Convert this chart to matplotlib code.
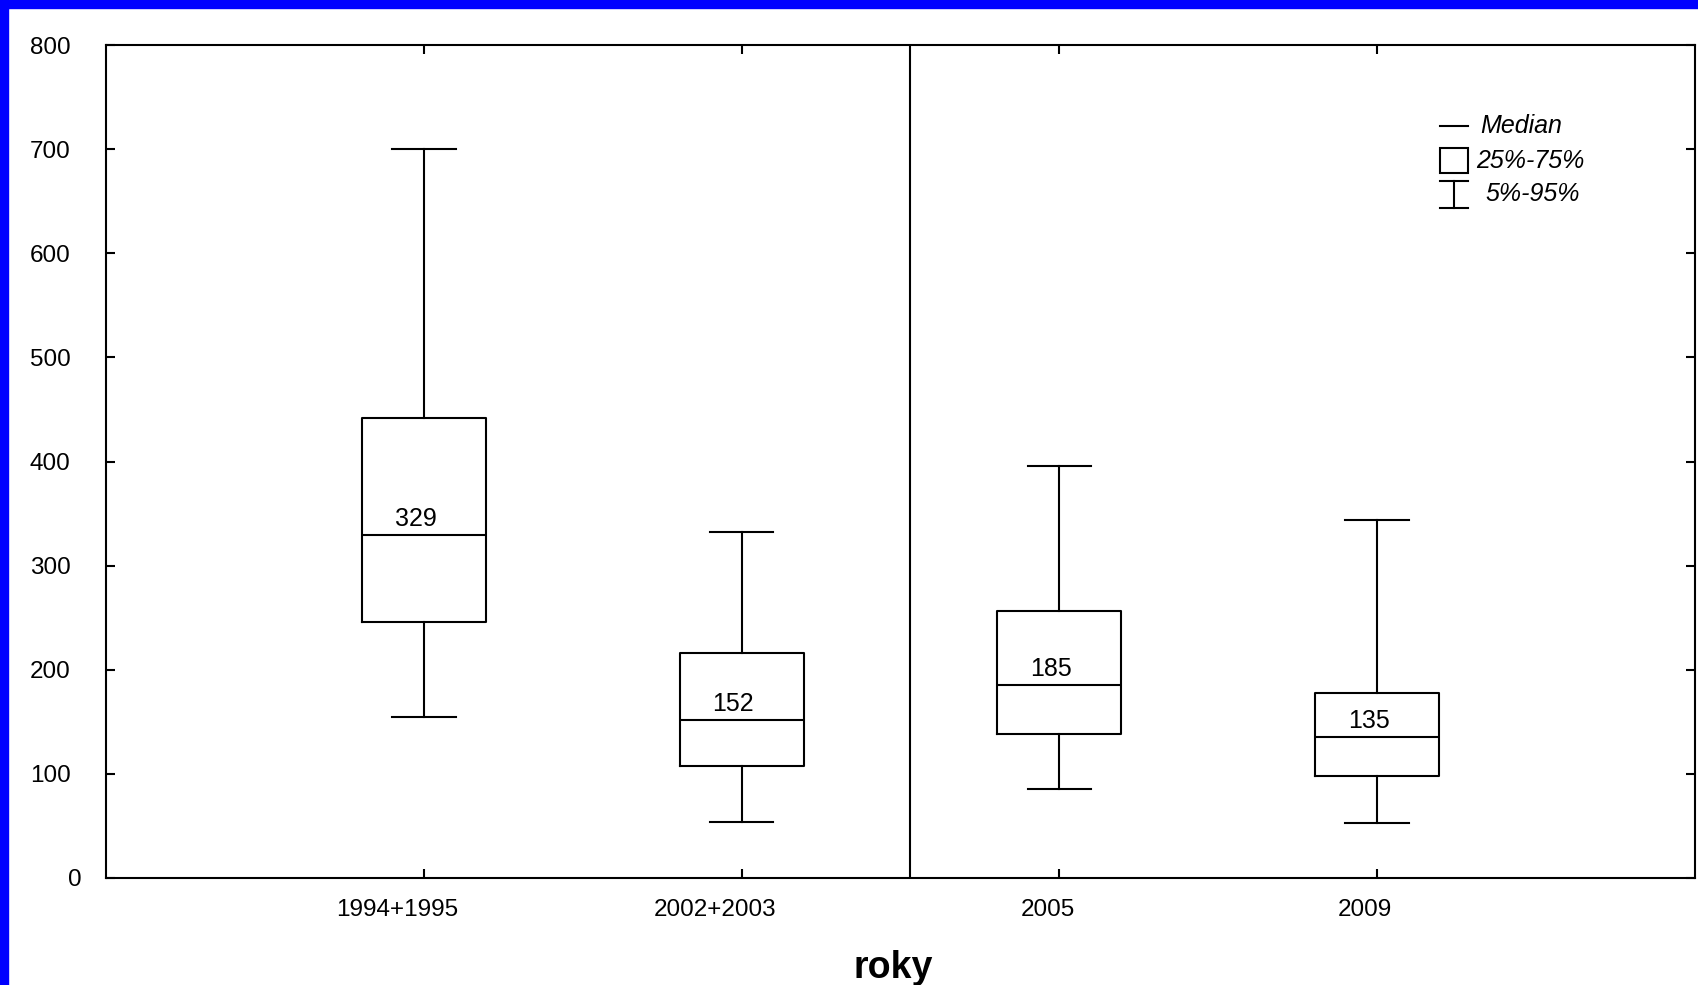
import matplotlib
matplotlib.use("Agg")
import matplotlib.pyplot as plt
import matplotlib.transforms as mtransforms
from matplotlib.patches import Rectangle

plt.rcParams['font.family'] = ['Liberation Sans', 'DejaVu Sans']

# data
roky = ['1994+1995', '2002+2003', '2005', '2009']
p05 = [155, 54, 85, 53]
q25 = [246, 108, 138, 98]
median = [329, 152, 185, 135]
q75 = [442, 216, 256, 178]
p95 = [700, 332, 396, 344]
median_labels = ['329', '152', '185', '135']
yticks = [0, 100, 200, 300, 400, 500, 600, 700, 800]

fig = plt.figure(figsize=(16.98, 9.85), dpi=100)
W, H = 1698, 985

# blue frame on the left and top
fig.patches.append(Rectangle((0, 0), 8 / W, 1, transform=fig.transFigure, color='#0000ff', zorder=0))
fig.patches.append(Rectangle((0, 1 - 8 / H), 1, 8 / H, transform=fig.transFigure, color='#0000ff', zorder=0))

ax = fig.add_axes([106 / W, (H - 878) / H, (1695 - 106) / W, (878 - 45) / H])

pos = [1, 2, 3, 4]
stats = []
for i in range(len(roky)):
    stats.append({'whislo': p05[i], 'q1': q25[i], 'med': median[i],
                  'q3': q75[i], 'whishi': p95[i], 'fliers': []})

lw = 1.5
ax.bxp(stats, positions=pos, widths=0.39, capwidths=0.2, showfliers=False,
       boxprops=dict(color='black', linewidth=lw),
       whiskerprops=dict(color='black', linewidth=lw),
       capprops=dict(color='black', linewidth=lw),
       medianprops=dict(color='black', linewidth=lw))

for x, m, lab in zip(pos, median, median_labels):
    ax.annotate(lab, (x, m), xytext=(-6, 3), textcoords='offset points',
                ha='center', va='bottom', fontsize=18)

# divider between the two periods
ax.axvline(2.53, color='black', linewidth=lw)

ax.set_xlim(0, 5)
ax.set_ylim(0, 800)
ax.set_yticks(yticks)
ax.set_yticklabels([str(v) for v in yticks])
ax.set_xticks(pos)
ax.set_xticklabels(roky)
ax.tick_params(direction='in', length=6.5, width=lw, top=True, right=True,
               labelsize=17.5)
ax.tick_params(axis='y', pad=25.5)
ax.tick_params(axis='x', pad=15)
for sp in ax.spines.values():
    sp.set_linewidth(lw)

# Statistica-style label placement
x_shift = [-27, -27, -12, -12]
for lab, dx in zip(ax.get_xticklabels(), x_shift):
    lab.set_transform(lab.get_transform() + mtransforms.ScaledTranslation(dx / 100, 0, fig.dpi_scale_trans))
ylabs = ax.get_yticklabels()
ylabs[0].set_transform(ylabs[0].get_transform() + mtransforms.ScaledTranslation(11 / 100, 0, fig.dpi_scale_trans))

xl = ax.set_xlabel('roky', fontsize=27, fontweight='bold', labelpad=21)
xl.set_transform(xl.get_transform() + mtransforms.ScaledTranslation(-7 / 100, 0, fig.dpi_scale_trans))

# legend drawn by hand
T = ax.transAxes
ax.plot([0.8395, 0.857], [0.9028, 0.9028], color='black', linewidth=lw, transform=T, clip_on=False)
ax.add_patch(Rectangle((0.8395, 0.8463), 0.0175, 0.0301, fill=False, edgecolor='black', linewidth=lw, transform=T))
ax.plot([0.8395, 0.857], [0.8367, 0.8367], color='black', linewidth=lw, transform=T)
ax.plot([0.8395, 0.857], [0.8043, 0.8043], color='black', linewidth=lw, transform=T)
ax.plot([0.8483, 0.8483], [0.8043, 0.8367], color='black', linewidth=lw, transform=T)
ax.text(0.8647, 0.9028, 'Median', transform=T, fontsize=18, style='italic', va='center')
ax.text(0.8625, 0.8613, '25%-75%', transform=T, fontsize=18, style='italic', va='center')
ax.text(0.8683, 0.8215, '5%-95%', transform=T, fontsize=18, style='italic', va='center')

fig.savefig('out.png', dpi=100)
